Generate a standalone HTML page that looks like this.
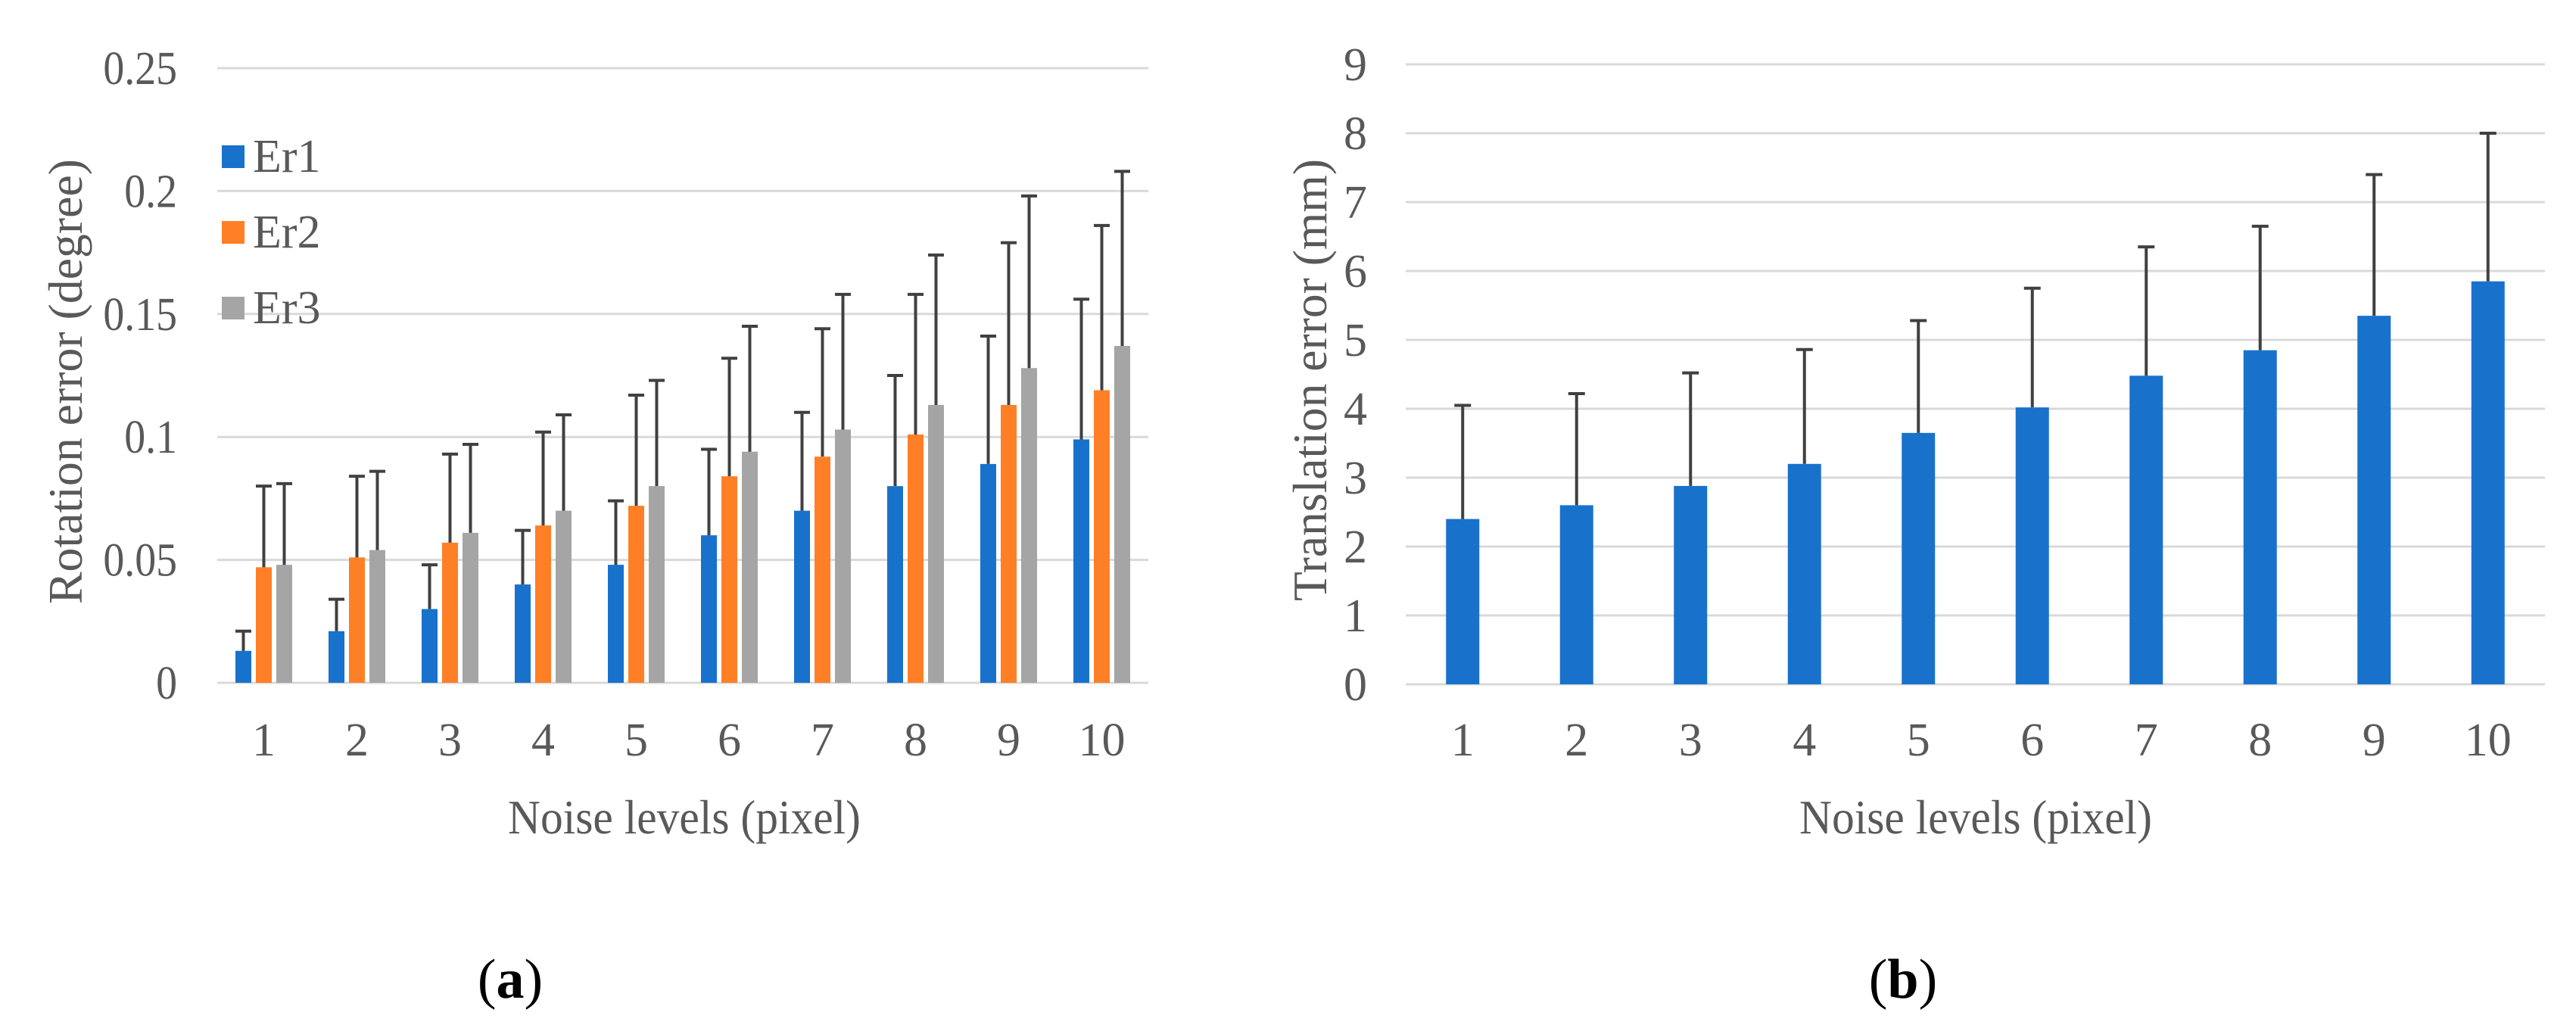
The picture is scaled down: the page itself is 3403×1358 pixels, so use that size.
<!DOCTYPE html>
<html><head><meta charset="utf-8">
<style>
html,body{margin:0;padding:0;background:#fff;}
svg{display:block;font-family:"Liberation Serif",serif;}
</style></head>
<body>
<svg id="fig" width="3403" height="1358" viewBox="0 0 3403 1358" xmlns="http://www.w3.org/2000/svg">
<g id="chartA"></g>
<g id="chartB"></g>
</svg>
<script>
const categories = ["1","2","3","4","5","6","7","8","9","10"];
const er1 = [0.013,0.021,0.030,0.040,0.048,0.060,0.070,0.080,0.089,0.099];
const er1Top = [0.021,0.034,0.048,0.062,0.074,0.095,0.110,0.125,0.141,0.156];
const er2 = [0.047,0.051,0.057,0.064,0.072,0.084,0.092,0.101,0.113,0.119];
const er2Top = [0.080,0.084,0.093,0.102,0.117,0.132,0.144,0.158,0.179,0.186];
const er3 = [0.048,0.054,0.061,0.070,0.080,0.094,0.103,0.113,0.128,0.137];
const er3Top = [0.081,0.086,0.097,0.109,0.123,0.145,0.158,0.174,0.198,0.208];
const ticksA = ["0","0.05","0.1","0.15","0.2","0.25"];
const ticksAVal = [0,0.05,0.1,0.15,0.2,0.25];
const trans = [2.40,2.60,2.88,3.20,3.65,4.02,4.48,4.85,5.35,5.85];
const transTop = [4.05,4.22,4.52,4.86,5.28,5.75,6.35,6.65,7.40,8.00];
const ticksB = ["0","1","2","3","4","5","6","7","8","9"];
const ticksBVal = [0,1,2,3,4,5,6,7,8,9];

const NS="http://www.w3.org/2000/svg";
function mk(parent,tag,attrs,text){const e=document.createElementNS(NS,tag);for(const k in attrs)e.setAttribute(k,attrs[k]);if(text!==undefined)e.textContent=text;parent.appendChild(e);return e;}
const GRAY="#595959", GRID="#d9d9d9", ERR="#404040";
const FS=62;

// ---- Chart A ----
const A=document.getElementById('chartA');
const aX0=287, aCat=123, aY0=902, aYTop=90, aMax=0.25;
const ay=v=>aY0-(v/aMax)*(aY0-aYTop);
const axc=i=>aX0+aCat*(i+0.5);
ticksAVal.forEach((v,i)=>{
  const l=mk(A,'line',{x1:aX0,x2:aX0+aCat*10,y1:ay(v),y2:ay(v),stroke:GRID,'stroke-width':3});
  
  
  const t=mk(A,'text',{x:234,y:ay(v)+21,'text-anchor':'end','font-size':FS,fill:GRAY,transform:`translate(234 0) scale(0.9 1) translate(-234 0)`},ticksA[i]);
  
  
});
const seriesA=[[er1,er1Top,"#1872cc","er1"],[er2,er2Top,"#ff7f27","er2"],[er3,er3Top,"#a5a5a5","er3"]];
const bw=21, bgap=6;
categories.forEach((c,i)=>{
  seriesA.forEach((s,j)=>{
    const cx=axc(i)+(j-1)*(bw+bgap);
    const r=mk(A,'rect',{x:cx-bw/2,y:ay(s[0][i]),width:bw,height:aY0-ay(s[0][i]),fill:s[2]});
    
    
    const e=mk(A,'path',{d:`M${cx} ${ay(s[0][i])}V${ay(s[1][i])}M${cx-bw/2} ${ay(s[1][i])}H${cx+bw/2}`,stroke:ERR,'stroke-width':4,fill:'none'});
    
    
  });
  const t=mk(A,'text',{x:axc(i),y:998,'text-anchor':'middle','font-size':FS,fill:GRAY},c);
  
  
});
const legNames=["Er1","Er2","Er3"];
seriesA.forEach((s,j)=>{
  const y=192+j*100;
  const r=mk(A,'rect',{x:293,y:y,width:30,height:30,fill:s[2]});
  
  
  const t=mk(A,'text',{x:334,y:y+35,'font-size':FS,fill:GRAY},legNames[j]);
  
  
});
let t;
t=mk(A,'text',{x:0,y:0,transform:'translate(108,504) rotate(-90)','text-anchor':'middle','font-size':64,fill:GRAY,textLength:588,lengthAdjust:'spacingAndGlyphs'},'Rotation error (degree)');


t=mk(A,'text',{x:904,y:1101,'text-anchor':'middle','font-size':64,fill:GRAY,textLength:466,lengthAdjust:'spacingAndGlyphs'},'Noise levels (pixel)');


t=mk(A,'text',{x:674,y:1318,'text-anchor':'middle','font-size':74,fill:'#000'});


mk(t,'tspan',{},'(');mk(t,'tspan',{'font-weight':'bold'},'a');mk(t,'tspan',{},')');

// ---- Chart B ----
const B=document.getElementById('chartB');
const bX0=1857, bCat=150.5, bY0=904, bMax=9, bYTop=85;
const by=v=>bY0-(v/bMax)*(bY0-bYTop);
const bxc=i=>bX0+bCat*(i+0.5);
ticksBVal.forEach((v,i)=>{
  const l=mk(B,'line',{x1:bX0,x2:bX0+bCat*10,y1:by(v),y2:by(v),stroke:GRID,'stroke-width':3});
  
  
  const tt=mk(B,'text',{x:1806,y:by(v)+21,'text-anchor':'end','font-size':FS,fill:GRAY},ticksB[i]);
  
  
});
const bbw=44;
categories.forEach((c,i)=>{
  const cx=bxc(i);
  const r=mk(B,'rect',{x:cx-bbw/2,y:by(trans[i]),width:bbw,height:bY0-by(trans[i]),fill:"#1872cc"});
  
  
  const e=mk(B,'path',{d:`M${cx} ${by(trans[i])}V${by(transTop[i])}M${cx-11} ${by(transTop[i])}H${cx+11}`,stroke:ERR,'stroke-width':4,fill:'none'});
  
  
  const tt=mk(B,'text',{x:cx,y:998,'text-anchor':'middle','font-size':FS,fill:GRAY},c);
  
  
});
t=mk(B,'text',{x:0,y:0,transform:'translate(1752,502) rotate(-90)','text-anchor':'middle','font-size':64,fill:GRAY,textLength:584,lengthAdjust:'spacingAndGlyphs'},'Translation error (mm)');


t=mk(B,'text',{x:2610,y:1101,'text-anchor':'middle','font-size':64,fill:GRAY,textLength:466,lengthAdjust:'spacingAndGlyphs'},'Noise levels (pixel)');


t=mk(B,'text',{x:2514,y:1318,'text-anchor':'middle','font-size':74,fill:'#000'});


mk(t,'tspan',{},'(');mk(t,'tspan',{'font-weight':'bold'},'b');mk(t,'tspan',{},')');
</script>
</body></html>
